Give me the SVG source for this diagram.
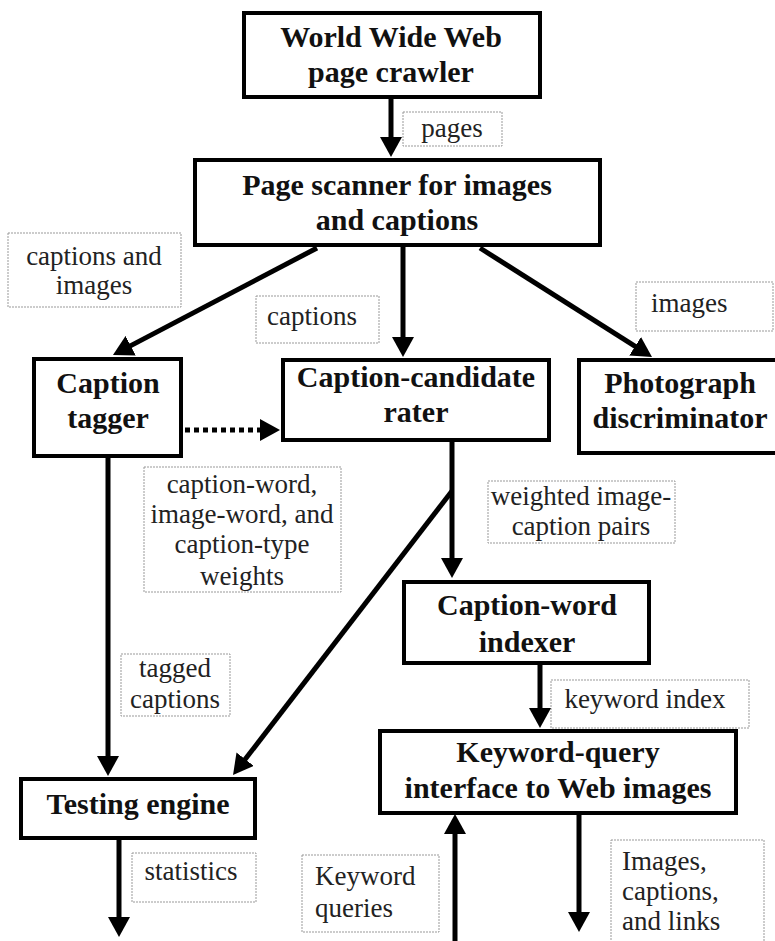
<svg xmlns="http://www.w3.org/2000/svg" width="775" height="941" viewBox="0 0 775 941">
  <style>
    .node rect { fill: #fff; stroke: #000; stroke-width: 4; }
    .node text { font-family: 'Liberation Serif', 'DejaVu Serif', serif; font-weight: bold; font-size: 30px; fill: #111; text-anchor: middle; }
    .lbl rect { fill: #fff; stroke: #999; stroke-width: 1; stroke-dasharray: 2 1; }
    .lbl text { font-family: 'Liberation Serif', 'DejaVu Serif', serif; font-size: 27px; fill: #222; }
    .c { text-anchor: middle; }
    .conn line { stroke: #000; stroke-width: 5; fill: none; marker-end: url(#ah); }
    .conn line.dot { stroke-dasharray: 5 4; }
  </style>
  <defs>
    <marker id="ah" viewBox="0 0 20 22" refX="2" refY="11" markerWidth="20" markerHeight="22" markerUnits="userSpaceOnUse" orient="auto">
      <path d="M0,0 L20,11 L0,22 z" fill="#000"/>
    </marker>
  </defs>

  <!-- labels -->
  <g id="lbl-pages" class="lbl"><rect x="403" y="112" width="99" height="34"/><text class="c" x="452" y="137">pages</text></g>
  <g id="lbl-capimg" class="lbl"><rect x="8" y="233" width="173" height="74"/><text class="c" x="94" y="265">captions and</text><text class="c" x="94" y="294">images</text></g>
  <g id="lbl-captions" class="lbl"><rect x="256" y="296" width="123" height="47"/><text class="c" x="312" y="325">captions</text></g>
  <g id="lbl-images" class="lbl"><rect x="636" y="282" width="137" height="49"/><text x="651" y="312">images</text></g>
  <g id="lbl-weights" class="lbl"><rect x="144" y="467" width="197" height="125"/><text class="c" x="242" y="493">caption-word,</text><text class="c" x="242" y="523">image-word, and</text><text class="c" x="242" y="553">caption-type</text><text class="c" x="242" y="585">weights</text></g>
  <g id="lbl-weighted" class="lbl"><rect x="488" y="481" width="187" height="62"/><text class="c" x="581" y="505">weighted image-</text><text class="c" x="581" y="535">caption pairs</text></g>
  <g id="lbl-tagged" class="lbl"><rect x="121" y="654" width="109" height="62"/><text class="c" x="175" y="677">tagged</text><text class="c" x="175" y="708">captions</text></g>
  <g id="lbl-kwindex" class="lbl"><rect x="551" y="680" width="198" height="48"/><text class="c" x="645" y="708">keyword index</text></g>
  <g id="lbl-stats" class="lbl"><rect x="132" y="853" width="124" height="49"/><text class="c" x="191" y="880">statistics</text></g>
  <g id="lbl-queries" class="lbl"><rect x="302" y="855" width="137" height="77"/><text x="315" y="885">Keyword</text><text x="315" y="917">queries</text></g>
  <g id="lbl-out" class="lbl"><rect x="611" y="840" width="153" height="110"/><text x="622" y="870">Images,</text><text x="622" y="900">captions,</text><text x="622" y="930">and links</text></g>

  <!-- connectors -->
  <g id="connectors" class="conn">
    <line x1="391" y1="98" x2="391" y2="139"/>
    <line x1="317" y1="248" x2="128.9" y2="346.6"/>
    <line x1="403" y1="247" x2="403" y2="339"/>
    <line x1="480" y1="248" x2="636.8" y2="347.4"/>
    <line class="dot" x1="185" y1="430" x2="262" y2="430"/>
    <line x1="452" y1="442" x2="452" y2="560"/>
    <line x1="452" y1="491" x2="244" y2="760.8"/>
    <line x1="108" y1="458" x2="108" y2="758"/>
    <line x1="540" y1="665" x2="540" y2="710"/>
    <line x1="119" y1="840" x2="119" y2="919"/>
    <line x1="455" y1="941" x2="455" y2="832"/>
    <line x1="579" y1="813" x2="579" y2="914"/>
  </g>

  <!-- nodes -->
  <g id="n-crawler" class="node"><rect x="244" y="13" width="296" height="84"/><text x="391" y="47">World Wide Web</text><text x="391" y="82">page crawler</text></g>
  <g id="n-scanner" class="node"><rect x="195" y="160" width="405" height="85"/><text x="397" y="195">Page scanner for images</text><text x="397" y="230">and captions</text></g>
  <g id="n-tagger" class="node"><rect x="34" y="359" width="147" height="97"/><text x="108" y="393">Caption</text><text x="108" y="428">tagger</text></g>
  <g id="n-rater" class="node"><rect x="283" y="360" width="266" height="80"/><text x="416" y="387">Caption-candidate</text><text x="416" y="422">rater</text></g>
  <g id="n-photo" class="node"><rect x="579" y="360" width="210" height="93"/><text x="680" y="393">Photograph</text><text x="680" y="428">discriminator</text></g>
  <g id="n-indexer" class="node"><rect x="404" y="582" width="245" height="81"/><text x="527" y="615">Caption-word</text><text x="527" y="652">indexer</text></g>
  <g id="n-query" class="node"><rect x="380" y="731" width="356" height="82"/><text x="558" y="762">Keyword-query</text><text x="558" y="798">interface to Web images</text></g>
  <g id="n-testing" class="node"><rect x="21" y="779" width="234" height="59"/><text x="138" y="814">Testing engine</text></g>
</svg>
